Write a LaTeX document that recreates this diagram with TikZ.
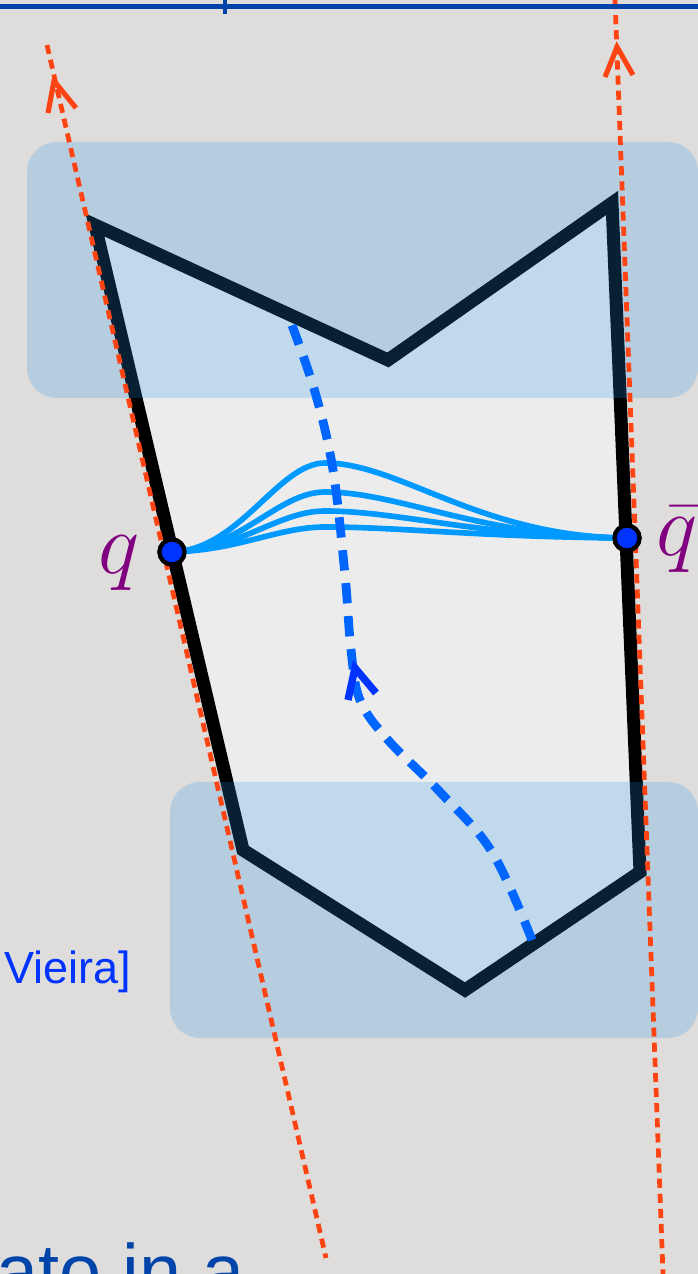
\documentclass[tikz,border=0pt]{standalone}
\usepackage{fontspec}
\newfontfamily\arialfont{Liberation Sans}
\begin{document}
\begin{tikzpicture}[x=0.01cm,y=-0.01cm,
  outline/.style={line width=3.7pt,draw=black,line join=miter},
  bandbox/.style={fill=bandblue,fill opacity=0.22,rounded corners=0.3cm},
  orangeline/.style={draw=orangec,line width=1.35pt,dash pattern=on 2.6pt off 1.7pt},
  orangetip/.style={draw=orangec,line width=1.45pt,line cap=butt},
  bluedash/.style={draw=dashblue,line width=2.5pt,dash pattern=on 5.8pt off 3.6pt},
  bluetip/.style={draw=tipblue,line width=2.1pt},
  cyanline/.style={draw=cyanc,line width=1.6pt},
  dot/.style={circle,fill=tipblue,draw=black,line width=1.2pt,minimum size=0.25cm,inner sep=0pt},
  qlabel/.style={text=purplec,inner sep=0pt,anchor=base,font=\fontsize{25}{25}\selectfont}]
\definecolor{bg}{RGB}{223,221,219}
\definecolor{inner}{RGB}{236,236,236}
\definecolor{bandblue}{RGB}{40,150,240}
\definecolor{orangec}{RGB}{255,68,20}
\definecolor{dashblue}{RGB}{0,102,255}
\definecolor{tipblue}{RGB}{0,51,255}
\definecolor{cyanc}{RGB}{0,153,255}
\definecolor{purplec}{RGB}{128,0,128}
\definecolor{darkblue}{RGB}{0,68,170}
\useasboundingbox (0,0) rectangle (698,1274);
\clip (0,0) rectangle (698,1274);
\fill[bg] (0,0) rectangle (698,1274);
% polygon vertices
\coordinate (A) at (95,225);
\coordinate (B) at (388,360);
\coordinate (C) at (612,203);
\coordinate (E) at (640,872);
\coordinate (F) at (465,990);
\coordinate (G) at (243,850);
\fill[inner] (A) -- (B) -- (C) -- (E) -- (F) -- (G) -- cycle;
\draw[outline] (A) -- (B) -- (C) -- (E) -- (F) -- (G) -- cycle;
% translucent bands
\fill[bandbox] (27,142) rectangle (698,398);
\fill[bandbox] (170,782) rectangle (698,1038);
% orange dashed lines with arrow chevrons
\coordinate (l1) at (47,45);
\coordinate (l2) at (326,1258);
\coordinate (r1) at (615,0);
\coordinate (r2) at (663,1274);
\draw[orangeline] (l1) -- (l2);
\draw[orangeline] (r1) -- (r2);
\coordinate (ltip) at (54,81);
\coordinate (rtip) at (617,47);
\draw[orangetip] ([shift={(-6,32)}]ltip) -- (ltip) -- ([shift={(22,27)}]ltip);
\draw[orangetip] ([shift={(-12,30)}]rtip) -- (rtip) -- ([shift={(16,28)}]rtip);
% endpoints q and qbar
\node[dot] (q) at (172,552) {};
\node[dot] (qb) at (627,538) {};
% cyan curves
\foreach \p in {463,492,511,527} {
  \draw[cyanline] (q.center) .. controls (240,550) and (278,\p) .. (325,\p)
     .. controls (400,\p) and (480,537) .. (qb.center);
}
% blue dashed curve
\draw[bluedash] plot[smooth,tension=0.6] coordinates {(532,940) (492,852) (440,792) (388,740) (360,700) (351,650) (345,575) (333,470) (315,392) (290,320)};
\coordinate (btip) at (355,668);
\draw[bluetip] ([shift={(-7,32)}]btip) -- (btip) -- ([shift={(21,25)}]btip);
\node[dot] at (q) {};
\node[dot] at (qb) {};
% labels
\node[qlabel] (ql) at (119,574) {$q$};
\node[qlabel] (qbl) at (677,556) {$\bar q$};
% top blue line
\coordinate (t1) at (0,6.5);
\coordinate (t2) at (698,6.5);
\draw[darkblue,line width=1.5pt] (t1) -- (t2);
\coordinate (k1) at (225,0);
\coordinate (k2) at (225,14);
\draw[darkblue,line width=1.4pt] (k1) -- (k2);
% texts
\node[anchor=base west,inner sep=0pt,text=tipblue,font=\arialfont\fontsize{12.8}{13}\selectfont] (vie) at (4,983) {Vieira]};
\node[anchor=base west,inner sep=0pt,text=darkblue,font=\arialfont\fontsize{21.5}{22}\selectfont] (bot) at (-4,1297) {ato in a};
\end{tikzpicture}
\end{document}
